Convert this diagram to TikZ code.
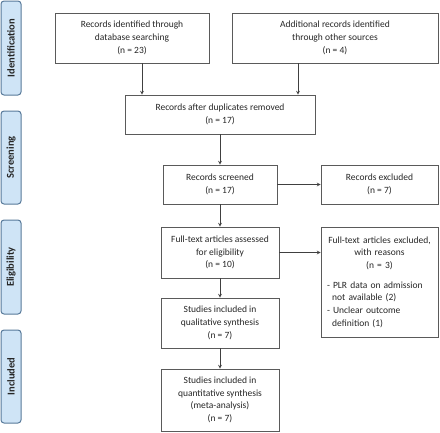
\documentclass[tikz,border=0pt]{standalone}
\usepackage{fontspec}
\setmainfont{Carlito}
\usetikzlibrary{arrows,positioning,calc}

\definecolor{tabfill}{HTML}{CFE4F6}
\definecolor{tabline}{HTML}{587A9A}
\definecolor{boxline}{HTML}{5A5A5A}
\definecolor{boxtext}{HTML}{262626}

\begin{document}
\begin{tikzpicture}[x=1pt, y=-1pt, > = stealth, font=\fontsize{9.5}{12.7}\selectfont]
                       \tikzstyle{box}=[rectangle, draw=boxline, line width=0.8pt, text=boxtext, align=center, inner sep=0pt]
                       \tikzstyle{tab}=[rectangle, rounded corners=3pt, draw=tabline, line width=1pt, fill=tabfill, rotate=90, minimum height=20pt, inner sep=0pt, font=\fontsize{10.5}{12}\selectfont\bfseries, text=black!85]
                       \tikzstyle{seta}=[->, line width=0.7pt, draw=black!75]

                        \useasboundingbox (0,0) rectangle (440,432);

                        % Fases
                        \node[tab, minimum width=94pt] (ident) at (11,48) {Identification};
                        \node[tab, minimum width=93pt] (screen) at (11,157.5) {Screening};
                        \node[tab, minimum width=94pt] (elig) at (11,267) {Eligibility};
                        \node[tab, minimum width=93pt] (incl) at (11,376.5) {Included};

                        % Caixas
                        \node[box, minimum width=154pt, minimum height=50pt] (db) at (132,38) {Records identified through\\ database searching\\ (n = 23)};
                        \node[box, minimum width=206pt, minimum height=50pt] (other) at (335,38) {Additional records identified\\ through other sources\\ (n = 4)};
                        \node[box, minimum width=190pt, minimum height=39pt] (dup) at (220,114.5) {Records after duplicates removed\\ (n = 17)};
                        \node[box, minimum width=114pt, minimum height=39pt] (screened) at (220,184.5) {Records screened\\ (n = 17)};
                        \node[box, minimum width=117pt, minimum height=39pt] (excl) at (379.5,184.5) {Records excluded\\ (n = 7)};
                        \node[box, minimum width=118pt, minimum height=51pt] (fulltext) at (220,252.5) {Full-text articles assessed\\ for eligibility\\ (n = 10)};
                        \node[box, text width=105pt, minimum width=117pt, minimum height=110pt, align=left, inner xsep=6pt] (ftexcl) at (379.5,282)
                            {\centering Full-text articles excluded,\\ with reasons\\ (n = 3)\par\vspace{7pt}
                             \raggedright - PLR data on admission\\ \hspace*{0.55em}not available (2)\\ - Unclear outcome\\ \hspace*{0.55em}definition (1)\par};
                        \node[box, minimum width=118pt, minimum height=50pt] (qual) at (220,323) {Studies included in\\ qualitative synthesis\\ (n = 7)};
                        \node[box, minimum width=118pt, minimum height=62pt] (quant) at (220,400) {Studies included in\\ quantitative synthesis\\ (meta-analysis)\\ (n = 7)};

                        % Setas
                        \draw[seta] ([xshift=10pt]db.south) -- ([xshift=10pt]db.south |- dup.north);
                        \draw[seta] ([xshift=-37pt]other.south) -- ([xshift=-37pt]other.south |- dup.north);
                        \draw[seta] (dup) -- (screened);
                        \draw[seta] (screened) -- (excl);
                        \draw[seta] (screened) -- (fulltext);
                        \draw[seta] (fulltext.east) -- (fulltext.east -| ftexcl.west);
                        \draw[seta] (fulltext) -- (qual);
                        \draw[seta] (qual) -- (quant);
                  \end{tikzpicture}
\end{document}
